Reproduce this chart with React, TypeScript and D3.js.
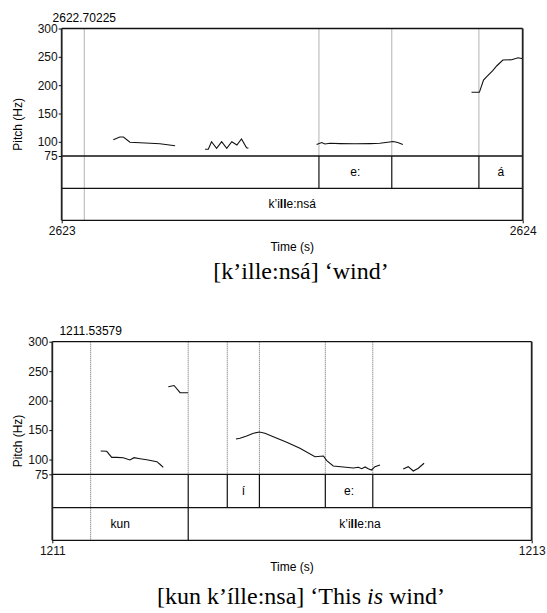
import React, { useEffect, useRef } from 'react';
import * as d3 from 'd3';

const hzTicks = [75, 100, 150, 200, 250, 300];

// ---- panel 1: [k’ille:nsá] ‘wind’
const topDomain = [2623, 2624];
const topCursor = 2623.049;
const topCursorLabel = '2622.70225';
const topBounds = [2623.558, 2623.716, 2623.905];
const topPhones = [
    { from: 2623.558, to: 2623.716, text: 'e:' },
    { from: 2623.905, to: 2624, text: 'á' },
];
const topWords = [{ from: 2623, to: 2624, text: 'k’i**ll**e:nsá' }];
const topCurve1 = [[2623.112, 103.8], [2623.126, 108.5], [2623.134, 108.5], [2623.148, 99.2], [2623.170, 98.5], [2623.192, 97.4], [2623.213, 96.7], [2623.246, 93.2]];
const topCurve2 = [[2623.311, 86.8], [2623.318, 86.8], [2623.325, 100.2], [2623.336, 88.6], [2623.347, 100.2], [2623.358, 88.6], [2623.369, 100.2], [2623.380, 94.4], [2623.390, 105], [2623.401, 89.6], [2623.405, 88.6]];
const topCurve3 = [[2623.553, 95.3], [2623.564, 98.8], [2623.571, 96.2], [2623.582, 97.4], [2623.604, 96.9], [2623.636, 96.5], [2623.669, 96.9], [2623.690, 97.4], [2623.703, 98.8], [2623.719, 100.6], [2623.729, 98.8], [2623.740, 95.3]];
const topCurve4 = [[2623.889, 187.4], [2623.906, 187.4], [2623.915, 209.1], [2623.922, 214.9], [2623.935, 225.5], [2623.944, 234.3], [2623.957, 244.4], [2623.976, 244.9], [2623.990, 248.4], [2624.0, 246.6]];
const topCaption = [{ text: '[k’ille:nsá] ‘wind’' }];

// ---- panel 2: [kun k’ílle:nsa] ‘This is wind’
const botDomain = [1211, 1213];
const botCursor = 1211.160;
const botCursorLabel = '1211.53579';
const botBounds = [1211.567, 1211.730, 1211.864, 1212.139, 1212.337];
const botPhones = [
    { from: 1211.730, to: 1211.864, text: 'í' },
    { from: 1212.139, to: 1212.337, text: 'e:' },
];
const botWords = [
    { from: 1211, to: 1211.567, text: 'kun' },
    { from: 1211.567, to: 1213, text: 'k’i**ll**e:na' },
];
const botCurve1 = [[1211.202, 114.5], [1211.227, 114], [1211.248, 103.8], [1211.269, 103.8], [1211.296, 103.2], [1211.324, 99.3], [1211.341, 103.2], [1211.366, 101.5], [1211.394, 99.8], [1211.436, 96.4], [1211.449, 92], [1211.463, 86.9]];
const botCurve2 = [[1211.484, 223.7], [1211.508, 225.7], [1211.533, 213.5], [1211.566, 213.5]];
const botCurve3 = [[1211.766, 134.9], [1211.783, 136.1], [1211.811, 140], [1211.839, 144.6], [1211.864, 146.8], [1211.887, 144.6], [1211.922, 138.8], [1211.978, 129.3], [1212.033, 119.1], [1212.096, 104.9], [1212.131, 106.1], [1212.145, 98.1], [1212.172, 89.1], [1212.214, 87.4], [1212.256, 85.7], [1212.277, 86.9], [1212.291, 84.5], [1212.305, 87.4], [1212.318, 84.5], [1212.332, 82.3], [1212.346, 87.9], [1212.367, 90.8]];
const botCurve4 = [[1212.464, 84], [1212.485, 87.9], [1212.506, 80.6], [1212.527, 85.2], [1212.551, 93.7]];
const botCaption = [{ text: '[kun k’ílle:nsa] ‘This ' }, { text: 'is', italic: true }, { text: ' wind’' }];

const sans = '"Liberation Sans", Arial, Helvetica, sans-serif';
const serif = '"Liberation Serif", "Times New Roman", serif';

function addLabel(sel, text, x, y) {
    // **xx** parts are drawn bold (Praat's thick l)
    const t = sel.append('text')
        .attr('x', x).attr('y', y)
        .attr('text-anchor', 'middle')
        .attr('font-family', sans)
        .attr('font-size', 12);
    text.split('**').forEach((part, i) => {
        if (part) t.append('tspan').attr('font-weight', i % 2 ? 'bold' : 'normal').text(part);
    });
}

function drawPanel(svg, p) {
    const x = d3.scaleLinear().domain(p.domain).range([p.left, p.right]);
    const y = d3.scaleLinear().domain([75, 300]).range([p.y75, p.top]);
    const g = svg.append('g');

    // dotted boundary lines in pitch area
    g.selectAll('.bd').data(p.bounds).enter().append('line')
        .attr('x1', d => x(d)).attr('x2', d => x(d))
        .attr('y1', p.top).attr('y2', p.y75)
        .attr('stroke', '#666').attr('stroke-width', 1).attr('stroke-dasharray', '1,1');
    // cursor
    g.append('line')
        .attr('x1', x(p.cursor)).attr('x2', x(p.cursor))
        .attr('y1', p.top).attr('y2', p.bottom)
        .attr('stroke', '#666').attr('stroke-width', 1).attr('stroke-dasharray', '1,1');
    g.append('text')
        .attr('x', x(p.cursor)).attr('y', p.top - 7)
        .attr('text-anchor', 'middle').attr('font-family', sans).attr('font-size', 12)
        .text(p.cursorLabel);

    // pitch curves
    const line = d3.line().x(d => x(d[0])).y(d => y(d[1]));
    g.selectAll('.curve').data(p.curves).enter().append('path')
        .attr('d', line).attr('fill', 'none')
        .attr('stroke', '#111').attr('stroke-width', 1.1);

    // tier boundaries
    g.selectAll('.pb').data(p.bounds).enter().append('line')
        .attr('x1', d => x(d)).attr('x2', d => x(d))
        .attr('y1', p.y75).attr('y2', p.tier)
        .attr('stroke', '#111').attr('stroke-width', 1.2);
    g.selectAll('.wb').data(p.words.slice(1)).enter().append('line')
        .attr('x1', d => x(d.from)).attr('x2', d => x(d.from))
        .attr('y1', p.tier).attr('y2', p.bottom)
        .attr('stroke', '#111').attr('stroke-width', 1.2);
    p.phones.forEach(d => addLabel(g, d.text, (x(d.from) + x(d.to)) / 2, (p.y75 + p.tier) / 2 + 4));
    p.words.forEach(d => addLabel(g, d.text, (x(d.from) + x(d.to)) / 2, (p.tier + p.bottom) / 2 + 4));

    // frame
    [p.top, p.y75, p.tier, p.bottom].forEach(v => {
        g.append('line').attr('x1', p.left).attr('x2', p.right).attr('y1', v).attr('y2', v)
            .attr('stroke', '#111').attr('stroke-width', 1.3);
    });
    [p.left, p.right].forEach(v => {
        g.append('line').attr('x1', v).attr('x2', v).attr('y1', p.top).attr('y2', p.bottom)
            .attr('stroke', '#222').attr('stroke-width', 1.8);
    });

    // y axis
    const ay = g.append('g').attr('transform', `translate(${p.left},0)`)
        .call(d3.axisLeft(y).tickValues(hzTicks).tickSize(3).tickPadding(1).tickFormat(d3.format('d')));
    ay.select('.domain').remove();
    ay.selectAll('text').attr('font-family', sans).attr('font-size', 12).attr('fill', '#111');
    ay.selectAll('line').attr('stroke', '#111');

    // x axis
    const ax = g.append('g').attr('transform', `translate(0,${p.bottom})`)
        .call(d3.axisBottom(x).tickValues(p.domain).tickSize(3).tickPadding(3).tickFormat(d3.format('d')));
    ax.select('.domain').remove();
    ax.selectAll('text').attr('font-family', sans).attr('font-size', 12).attr('fill', '#111');
    ax.selectAll('line').attr('stroke', '#111');

    g.append('text')
        .attr('x', (p.left + p.right) / 2).attr('y', p.bottom + 31)
        .attr('text-anchor', 'middle').attr('font-family', sans).attr('font-size', 12)
        .text('Time (s)');
    g.append('text')
        .attr('transform', `translate(22,${(p.top + p.bottom) / 2}) rotate(-90)`)
        .attr('text-anchor', 'middle').attr('font-family', sans).attr('font-size', 12)
        .text('Pitch (Hz)');

    const cap = g.append('text')
        .attr('x', 301).attr('y', p.captionY)
        .attr('text-anchor', 'middle').attr('font-family', serif).attr('font-size', 24);
    p.caption.forEach(c => {
        cap.append('tspan').attr('font-style', c.italic ? 'italic' : 'normal').text(c.text);
    });
}

export default function App() {
    const ref = useRef(null);

    useEffect(() => {
        const svg = d3.select(ref.current);
        svg.selectAll('*').remove();
        drawPanel(svg, {
            domain: topDomain, cursor: topCursor, cursorLabel: topCursorLabel,
            bounds: topBounds, phones: topPhones, words: topWords,
            curves: [topCurve1, topCurve2, topCurve3, topCurve4], caption: topCaption,
            left: 61.7, right: 522.7, top: 28.5, y75: 156, tier: 188.3, bottom: 220.3, captionY: 279,
        });
        drawPanel(svg, {
            domain: botDomain, cursor: botCursor, cursorLabel: botCursorLabel,
            bounds: botBounds, phones: botPhones, words: botWords,
            curves: [botCurve1, botCurve2, botCurve3, botCurve4], caption: botCaption,
            left: 52.3, right: 531.7, top: 341.7, y75: 474.3, tier: 507.7, bottom: 540.3, captionY: 604,
        });
    }, []);

    return (
        <svg ref={ref} width={547} height={613}
            style={{ position: 'absolute', left: 0, top: 0, background: '#fff' }} />
    );
}
